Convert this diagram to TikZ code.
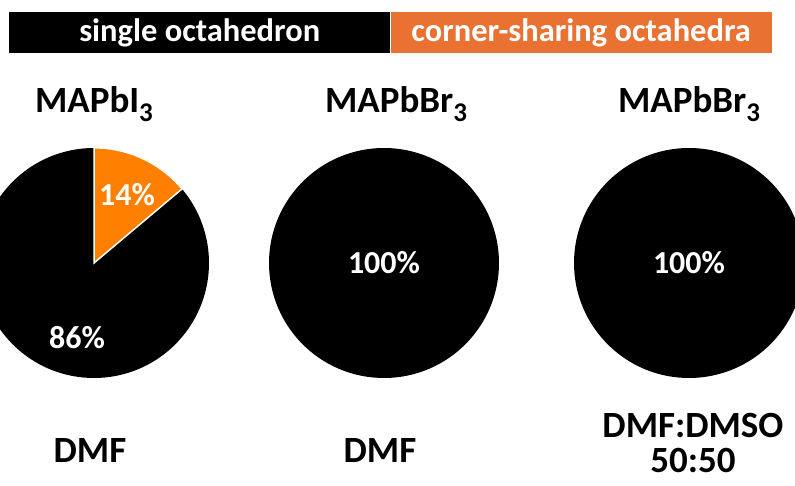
\documentclass[tikz,border=0pt]{standalone}
\usepackage{fontspec}
\setmainfont{Carlito}
\usetikzlibrary{positioning,calc}
\definecolor{barorange}{RGB}{233,113,50}
\definecolor{sliceorange}{RGB}{255,128,0}
% lowered index in the compound names
\newcommand\chemsub[1]{\raisebox{-9pt}{\fontsize{27}{27}\selectfont #1}}

\begin{document}
\begin{tikzpicture}[x=1pt,y=-1pt,
  bar/.style={minimum width=381pt,minimum height=41pt,inner sep=0pt,text=white,font=\bfseries\fontsize{32.5}{36}\selectfont},
  pie/.style={circle,fill=black,minimum size=230pt,inner sep=0pt,text=white,font=\bfseries\fontsize{32}{36}\selectfont},
  pct/.style={text=white,font=\bfseries\fontsize{32}{36}\selectfont},
  title/.style={anchor=base,font=\bfseries\fontsize{37}{35}\selectfont,align=center}]
\useasboundingbox (0,0) rectangle (795,486);
\clip (0,0) rectangle (795,486);

%% Header bar
\node (single) [bar,fill=black,anchor=north west] at (9,12) {single octahedron};
\node (corner) [bar,fill=barorange,right=0pt of single] {corner-sharing octahedra};

%% Pies
\node (pieI)   [pie] at (94,263) {};
\fill[sliceorange,draw=white,line width=1.5pt] (pieI.center) -- (pieI.north)
      arc[start angle=90,end angle=40,radius=115pt] -- cycle;
\node (pI14) [pct] at ($(pieI)+(33,-68)$) {14\%};
\node (pI86) [pct] at ($(pieI)+(-17,75)$) {86\%};

\node (pieBr)  [pie] at (384,263) {100\%};
\node (pieMix) [pie] at (689,263) {100\%};

%% Compounds
\node (tI)   [title] at ($(pieI.north)+(0,-35)$)     {MAPbI\chemsub{3}};
\node (tBr)  [title] at ($(pieBr.north)+(12,-35)$)   {MAPbBr\chemsub{3}};
\node (tMix) [title] at ($(pieMix.north)+(0,-35)$)   {MAPbBr\chemsub{3}};

%% Solvents
\node (sI)   [title] at ($(pieI.south)+(-4,84)$)     {DMF};
\node (sBr)  [title] at ($(pieBr.south)+(-4,84)$)    {DMF};
\node (sMix) [title] at ($(pieMix.south)+(4,94)$)    {DMF:DMSO\\50:50};
\end{tikzpicture}
\end{document}
